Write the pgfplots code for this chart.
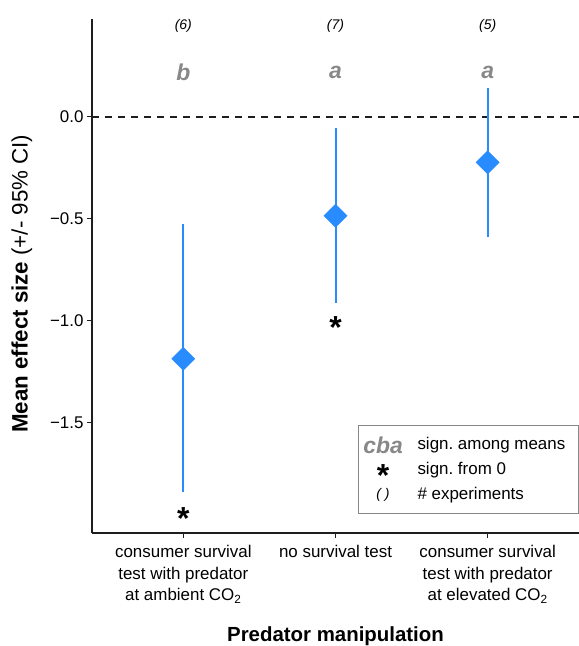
\documentclass[border=0pt]{standalone}
\usepackage{pgfplots}
\pgfplotsset{compat=1.18}
\usepackage{fontspec}
\setmainfont{Liberation Sans}
\frenchspacing
\definecolor{ptblue}{RGB}{40,140,255}
\definecolor{letgray}{RGB}{136,136,136}
\definecolor{axisblack}{RGB}{30,30,30}

\begin{document}
\begin{tikzpicture}[x=1bp,y=1bp]
\path[use as bounding box] (-92,-113) rectangle (487,533);
\begin{axis}[
  at={(0,0)}, anchor=south west,
  scale only axis, width=487bp, height=514bp,
  xmin=0.4, xmax=3.6, ymin=-2.04, ymax=0.48,
  axis lines=left,
  axis line style={-, line width=1.6bp, color=axisblack},
  tick style={axisblack, line width=1.2bp},
  major tick length=5bp, tick align=outside,
  xtick={1,2,3},
  xticklabels={{consumer survival\\test with predator\\at ambient CO\textsubscript{2}},
               {no survival test},
               {consumer survival\\test with predator\\at elevated CO\textsubscript{2}}},
  xticklabel style={align=center, font=\fontsize{17}{21.5}\selectfont, anchor=north, yshift=-4bp},
  ytick={-1.5,-1,-0.5,0},
  yticklabels={−1.5,−1.0,−0.5,0.0},
  yticklabel style={font=\fontsize{17}{20}\selectfont},
  xlabel={\bfseries Predator manipulation},
  xlabel style={font=\fontsize{20.5}{24}\selectfont, at={(axis description cs:0.5,0)}, anchor=center, yshift=-103bp},
  ylabel={{\bfseries Mean effect size} (+/- 95\% CI)},
  ylabel style={font=\fontsize{22.4}{26}\selectfont, at={(axis description cs:-0.144,0.485)}, anchor=center},
  clip=false,
]
% zero reference line
\addplot[axisblack, line width=1.8bp, dash pattern=on 7bp off 6bp] coordinates {(0.4,0) (3.6,0)};

% mean effect sizes with asymmetric 95% confidence intervals
\addplot[only marks, mark=square*, mark size=8.2bp, mark options={rotate=45}, color=ptblue, fill=ptblue,
  error bars/.cd, y dir=both, y explicit, error mark=none,
  error bar style={line width=2bp, ptblue}]
  coordinates {
    (1,-1.186) += (0,0.661) -= (0,0.654)
    (2,-0.485) += (0,0.431) -= (0,0.425)
    (3,-0.223) += (0,0.363) -= (0,0.367)
  };

% number of experiments
\node[font=\fontsize{14}{16}\selectfont\itshape] at (axis cs:1,0.445) {(6)};
\node[font=\fontsize{14}{16}\selectfont\itshape] at (axis cs:2,0.445) {(7)};
\node[font=\fontsize{14}{16}\selectfont\itshape] at (axis cs:3,0.445) {(5)};
% groups among means
\node[font=\fontsize{23}{24}\selectfont\bfseries\itshape, letgray] at (axis cs:1,0.22) {b};
\node[font=\fontsize{23}{24}\selectfont\bfseries\itshape, letgray] at (axis cs:2,0.22) {a};
\node[font=\fontsize{23}{24}\selectfont\bfseries\itshape, letgray] at (axis cs:3,0.22) {a};
% significantly different from zero (baseline-anchored asterisks)
\node[font=\fontsize{32}{32}\selectfont\bfseries, inner sep=0pt, anchor=base] at (axis cs:1,-2.024) {*};
\node[font=\fontsize{32}{32}\selectfont\bfseries, inner sep=0pt, anchor=base] at (axis cs:2,-1.088) {*};
\end{axis}

% key
\draw[letgray, line width=0.9bp, fill=white] (266,20) rectangle (486,108);
\node[font=\fontsize{23}{24}\selectfont\bfseries\itshape, letgray] at (291,88) {cba};
\node[font=\fontsize{17}{20}\selectfont, anchor=west] at (322,88) {sign. among means};
\node[font=\fontsize{32}{32}\selectfont\bfseries, inner sep=0pt, anchor=base] at (291,46) {\smash{*}};
\node[font=\fontsize{17}{20}\selectfont, anchor=west] at (322,63) {sign. from 0};
\node[font=\fontsize{14}{16}\selectfont\itshape] at (291,38) {( )};
\node[font=\fontsize{17}{20}\selectfont, anchor=west] at (322,38) {\# experiments};
\end{tikzpicture}
\end{document}
